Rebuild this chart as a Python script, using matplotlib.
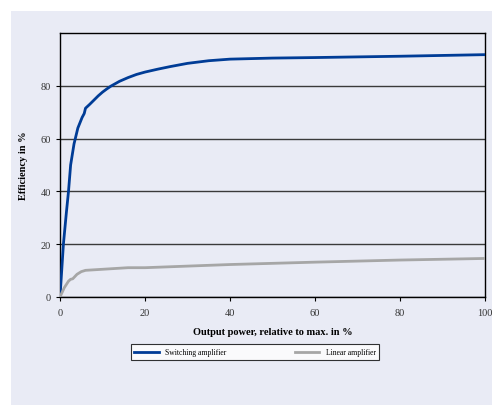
import matplotlib.pyplot as plt
import matplotlib as mpl
from matplotlib.patches import Rectangle

# Efficiency vs output power
switch_x = [0, 0.8, 1.5, 2, 2.5, 3.3, 4.2, 5.2, 5.7, 6, 7, 8, 9, 10, 11, 12, 14, 16, 18, 20,
            23, 26, 30, 35, 40, 50, 60, 80, 100]
switch_y = [0, 20, 32, 40, 50, 58, 64, 68, 69.5, 71.5, 73, 74.6, 76.2, 77.6, 78.8, 79.9, 81.7,
            83.1, 84.3, 85.2, 86.3, 87.3, 88.5, 89.5, 90.1, 90.5, 90.7, 91.2, 91.8]
linear_x = [0, 1, 2, 2.5, 3, 4, 5, 6, 8, 10, 13, 16, 20, 40, 60, 80, 100]
linear_y = [0, 3.5, 6.0, 6.7, 6.9, 8.6, 9.6, 10.1, 10.3, 10.5, 10.8, 11.1, 11.1, 12.3, 13.2, 14.0, 14.6]

mpl.rcParams["font.family"] = "Liberation Serif"
mpl.rcParams["font.size"] = 7.5

panel = "#E9EBF5"
W, H = 492, 406
fig = plt.figure(figsize=(W / 100, H / 100), dpi=100, facecolor="white")
fig.patches.append(Rectangle((11 / W, 0), 1, (H - 12) / H, transform=fig.transFigure,
                             facecolor=panel, edgecolor="none", zorder=-10))

ax = fig.add_axes([60 / W, (H - 298) / H, (485 - 60) / W, (298 - 34) / H])
ax.set_facecolor(panel)

ax.plot(switch_x, switch_y, color="#003C96", lw=2.0, label="Switching amplifier", zorder=3,
        solid_joinstyle="round")
ax.plot(linear_x, linear_y, color="#A6A6A6", lw=2.0, label="Linear amplifier", zorder=3,
        solid_joinstyle="round")

ax.set_xlim(0, 100)
ax.set_ylim(0, 100)
ax.set_xticks([0, 20, 40, 60, 80, 100])
ax.set_yticks([0, 20, 40, 60, 80])
ax.yaxis.grid(True, color="#3a3a3a", lw=1.0)
ax.set_axisbelow(True)
for s in ax.spines.values():
    s.set_color("black")
    s.set_linewidth(1.0)
ax.tick_params(direction="out", length=3, width=0.8, colors="black", labelcolor="#333333",
               labelsize=7.5)
ax.tick_params(axis="x", pad=5)

ax.set_xlabel("Output power, relative to max. in %", fontweight="bold", labelpad=7)
ax.set_ylabel("Efficiency in %", fontweight="bold", labelpad=9)

leg = ax.legend(loc="upper center", bbox_to_anchor=(195 / 425, -0.165), ncol=2,
                fontsize=5.5, frameon=True, fancybox=False, edgecolor="black",
                handlelength=3.2, columnspacing=9, borderpad=0.5)
leg.get_frame().set_linewidth(0.8)
leg.get_frame().set_facecolor("white")

plt.savefig("out.png", dpi=100, facecolor="white")
